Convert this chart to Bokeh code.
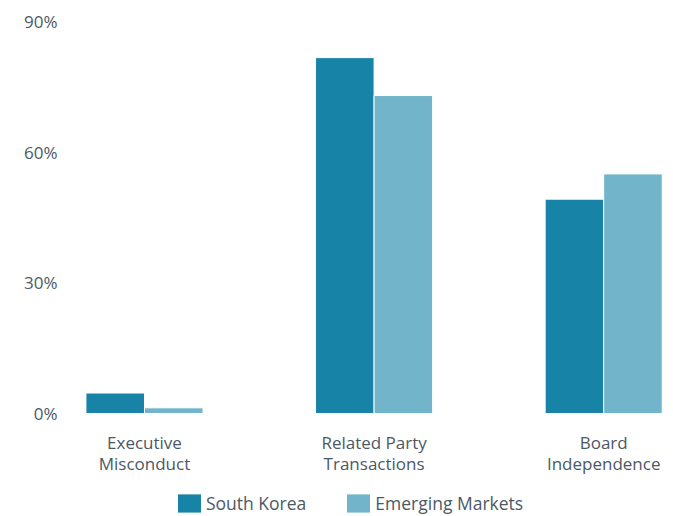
from bokeh.plotting import figure
from bokeh.models import Range1d, FixedTicker, Legend, LegendItem
from bokeh.core.properties import value
from bokeh.embed import file_html
from bokeh.resources import INLINE

categories = ["Executive\nMisconduct", "Related Party\nTransactions", "Board\nIndependence"]
south_korea = [4.7, 81.7, 49.2]
emerging_markets = [1.3, 73.0, 55.0]
series_names = ["South Korea", "Emerging Markets"]
y_ticks = [0, 30, 60, 90]
y_tick_labels = ["0%", "30%", "60%", "90%"]

SK_COLOR = "#1783a7"
EM_COLOR = "#72b5cb"
TEXT_COLOR = "#4b5965"
FONT = "Open Sans"

xs = list(range(len(categories)))

p = figure(width=673, height=516, output_backend="svg", toolbar_location=None,
           x_range=Range1d(-0.344, 2.304), y_range=Range1d(-23.65, 91.6),
           x_axis_location=None,
           min_border_left=65, min_border_right=0, min_border_top=14,
           min_border_bottom=0)
p.outline_line_color = None
p.xgrid.visible = False
p.ygrid.visible = False

bw = 0.255
r1 = p.vbar(x=[x - bw / 2 for x in xs], top=south_korea, bottom=0, width=bw,
            fill_color=SK_COLOR, line_color="white", line_width=1)
r2 = p.vbar(x=[x + bw / 2 for x in xs], top=emerging_markets, bottom=0, width=bw,
            fill_color=EM_COLOR, line_color="white", line_width=1)

# category labels under the bars
p.text(x=xs, y=[0] * len(xs), text=categories, y_offset=17.5,
       text_align="center", text_baseline="top",
       text_font=value(FONT), text_font_size="17px", text_color=TEXT_COLOR,
       text_line_height=0.91)

ax = p.yaxis[0]
ax.axis_line_color = None
ax.major_tick_line_color = None
ax.minor_tick_line_color = None
ax.major_tick_out = 0
ax.major_tick_in = 0
ax.major_label_text_font = FONT
ax.major_label_text_font_size = "17px"
ax.major_label_text_color = TEXT_COLOR
ax.ticker = FixedTicker(ticks=y_ticks)
ax.major_label_overrides = {t: l for t, l in zip(y_ticks, y_tick_labels)}
ax.major_label_standoff = 8

legend = Legend(items=[LegendItem(label=series_names[0], renderers=[r1]),
                       LegendItem(label=series_names[1], renderers=[r2])],
                location=(109, 1), orientation="horizontal",
                padding=0, margin=0, border_line_color=None,
                background_fill_alpha=0, glyph_width=30, glyph_height=24,
                label_height=24,
                label_standoff=2, spacing=37,
                label_text_font=FONT, label_text_font_size="17.5px",
                label_text_color=TEXT_COLOR)
p.add_layout(legend)

open("out.html", "w").write(file_html(p, INLINE))
